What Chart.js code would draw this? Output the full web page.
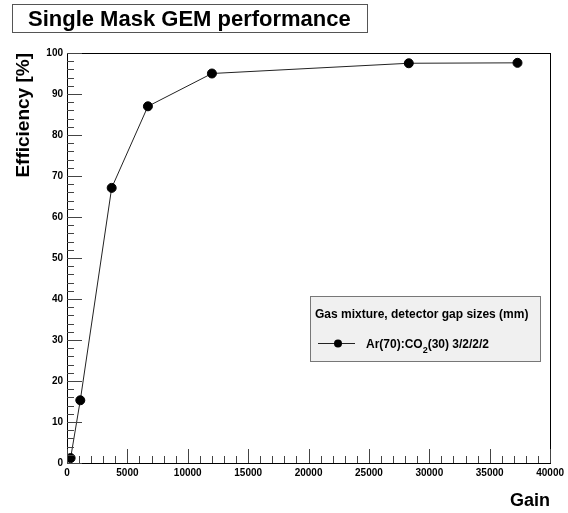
<!DOCTYPE html>
<html>
<head>
<meta charset="utf-8">
<script src="https://cdn.jsdelivr.net/npm/chart.js@4.4.1/dist/chart.umd.min.js"></script>
<style>
  body { margin: 0; background: #fff; }
  #wrap { width: 568px; height: 513px; }
</style>
</head>
<body>
<div id="wrap"><canvas id="gemChart" width="568" height="513"></canvas></div>
<script>
  const gain = [300, 1100, 3700, 6700, 12000, 28300, 37300];
  const efficiency = [1.2, 15.3, 67.1, 87.0, 95.0, 97.5, 97.6];
  const xMajorTicks = [0, 5000, 10000, 15000, 20000, 25000, 30000, 35000, 40000];
  const yMajorTicks = [0, 10, 20, 30, 40, 50, 60, 70, 80, 90, 100];
  const xMinorStep = 1000;
  const yMinorStep = 2;

  const chartTitle = 'Single Mask GEM performance';
  const xTitle = 'Gain';
  const yTitle = 'Efficiency [%]';
  const legendHeader = 'Gas mixture, detector gap sizes (mm)';
  const seriesLabel = ['Ar(70):CO', '2', '(30) 3/2/2/2'];

  const FONT = "'Liberation Sans', Arial, Helvetica, sans-serif";

  // frame, inward ticks, titles and legend box
  const rootStyle = {
    id: 'rootStyle',
    afterDraw(chart) {
      const c = chart.ctx;
      const a = chart.chartArea;
      const xs = chart.scales.x;
      const ys = chart.scales.y;
      c.save();

      c.strokeStyle = '#000';
      c.lineWidth = 1;
      c.strokeRect(Math.round(a.left) + 0.5, Math.round(a.top) + 0.5,
        Math.round(a.right - a.left), Math.round(a.bottom - a.top));

      c.strokeStyle = '#444';
      c.beginPath();
      for (let v = xs.min; v <= xs.max; v += xMinorStep) {
        const px = Math.round(xs.getPixelForValue(v)) + 0.5;
        const len = xMajorTicks.includes(v) ? 14 : 7;
        c.moveTo(px, a.bottom);
        c.lineTo(px, a.bottom - len);
      }
      for (let v = ys.min; v <= ys.max; v += yMinorStep) {
        const py = Math.round(ys.getPixelForValue(v)) + 0.5;
        const len = yMajorTicks.includes(v) ? 15 : 7;
        c.moveTo(a.left, py);
        c.lineTo(a.left + len, py);
      }
      c.stroke();

      // title box
      c.fillStyle = '#fff';
      c.fillRect(12, 4, 355, 28);
      c.strokeStyle = '#555';
      c.strokeRect(12.5, 4.5, 355, 28);
      c.fillStyle = '#000';
      c.font = 'bold 22px ' + FONT;
      c.textBaseline = 'alphabetic';
      c.textAlign = 'left';
      c.fillText(chartTitle, 28, 26);

      // axis titles
      c.font = 'bold 18px ' + FONT;
      c.textAlign = 'right';
      c.fillText(xTitle, a.right, 506);
      c.font = 'bold 19px ' + FONT;
      c.save();
      c.translate(29, a.top);
      c.rotate(-Math.PI / 2);
      c.fillText(yTitle, 0, 0);
      c.restore();

      // legend box
      c.fillStyle = '#f0f0f0';
      c.fillRect(310, 296, 230, 65);
      c.strokeStyle = '#777';
      c.strokeRect(310.5, 296.5, 230, 65);
      c.fillStyle = '#000';
      c.textAlign = 'left';
      c.font = 'bold 12px ' + FONT;
      c.fillText(legendHeader, 315, 318);
      c.strokeStyle = '#222';
      c.beginPath();
      c.moveTo(318, 343.5);
      c.lineTo(355, 343.5);
      c.stroke();
      c.beginPath();
      c.arc(338, 343.5, 4, 0, Math.PI * 2);
      c.fill();
      let tx = 366;
      c.fillText(seriesLabel[0], tx, 348);
      tx += c.measureText(seriesLabel[0]).width;
      c.font = 'bold 9px ' + FONT;
      c.fillText(seriesLabel[1], tx, 353);
      tx += c.measureText(seriesLabel[1]).width;
      c.font = 'bold 12px ' + FONT;
      c.fillText(seriesLabel[2], tx, 348);

      c.restore();
    }
  };

  new Chart(document.getElementById('gemChart'), {
    type: 'line',
    data: {
      datasets: [{
        data: gain.map((g, i) => ({ x: g, y: efficiency[i] })),
        borderColor: '#222',
        borderWidth: 1,
        backgroundColor: '#000',
        pointBackgroundColor: '#000',
        pointBorderColor: '#000',
        pointRadius: 4.5,
        tension: 0,
        fill: false
      }]
    },
    options: {
      responsive: false,
      animation: false,
      layout: { padding: { top: 53, right: 16, left: 0, bottom: 0 } },
      plugins: {
        legend: { display: false },
        tooltip: { enabled: false }
      },
      scales: {
        x: {
          type: 'linear',
          min: 0,
          max: 40000,
          afterFit: s => { s.height = 50; },
          afterBuildTicks: s => { s.ticks = xMajorTicks.map(v => ({ value: v })); },
          grid: { display: false, drawTicks: false },
          border: { display: false },
          ticks: {
            padding: 4,
            maxRotation: 0,
            autoSkip: false,
            color: '#000',
            font: { family: FONT, size: 10, weight: 'bold' },
            callback: v => String(v)
          }
        },
        y: {
          type: 'linear',
          min: 0,
          max: 100,
          afterFit: s => { s.width = 67; },
          afterBuildTicks: s => { s.ticks = yMajorTicks.map(v => ({ value: v })); },
          grid: { display: false, drawTicks: false },
          border: { display: false },
          ticks: {
            padding: 4,
            autoSkip: false,
            color: '#000',
            font: { family: FONT, size: 10, weight: 'bold' },
            callback: v => String(v)
          }
        }
      }
    },
    plugins: [rootStyle]
  });
</script>
</body>
</html>
